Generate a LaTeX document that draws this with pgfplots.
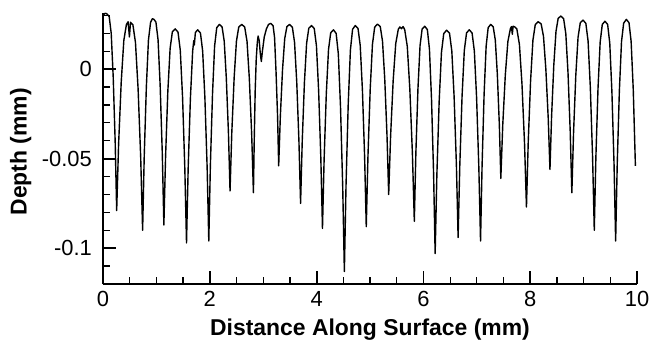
\documentclass[border=0pt]{standalone}
\usepackage{fontspec}
\setmainfont{Liberation Sans}
\usepackage{pgfplots}
\pgfplotsset{compat=1.18}
\begin{document}
\begin{tikzpicture}
\path[use as bounding box] (-103bp,-57bp) rectangle (549bp,284bp);
\begin{axis}[
 at={(0,0)}, anchor=south west,
 width=534bp, height=271.2bp, scale only axis,
 xmin=0, xmax=10, ymin=-0.12, ymax=0.0315,
 axis x line*=bottom, axis y line*=left,
 axis line style={line width=2.2bp, -},
 xtick={0,2,4,6,8,10}, xticklabels={0,2,4,6,8,10},
 ytick={-0.1,-0.05,0}, yticklabels={-0.1,-0.05,0},
 minor xtick={0.5,1,1.5,2.5,3,3.5,4.5,5,5.5,6.5,7,7.5,8.5,9,9.5},
 minor ytick={-0.12,-0.11,-0.09,-0.08,-0.07,-0.06,-0.04,-0.03,-0.02,-0.01,0.01,0.02,0.03},
 tick align=inside,
 major tick length=13bp, minor tick length=7bp,
 major tick style={line width=1.8bp, black},
 minor tick style={line width=1.2bp, black},
 ticklabel style={font=\fontsize{22}{26}\selectfont},
 xticklabel style={anchor=base, yshift=-22.7bp},
 yticklabel style={anchor=east, inner sep=0pt, xshift=-11bp},
 xlabel={Distance Along Surface (mm)},
 ylabel={Depth (mm)},
 every axis x label/.style={at={(axis description cs:0.5,0)}, anchor=base, yshift=-51.3bp, font=\bfseries\fontsize{23}{26}\selectfont},
 every axis y label/.style={at={(axis description cs:-0.1429,0.488)}, rotate=90, anchor=base, font=\bfseries\fontsize{23}{26}\selectfont},
]
\addplot[black, line width=1.4bp, mark=none, line join=round] coordinates {
(0,0.0292) (0.015,0.0305) (0.04,0.0312) (0.07,0.0310) (0.116,0.0294) (0.154,0.0200) (0.191,-0.0042) (0.228,-0.0405) (0.256,-0.0790)
(0.292,-0.0421) (0.341,-0.0073) (0.390,0.0160) (0.438,0.0249) (0.470,0.0265) (0.495,0.0180) (0.515,0.0262) (0.560,0.0248) (0.608,0.0149) (0.657,-0.0108) (0.706,-0.0492) (0.742,-0.0900)
(0.772,-0.0487) (0.812,-0.0098) (0.851,0.0162) (0.891,0.0262) (0.925,0.0282) (0.955,0.0278) (0.991,0.0263) (1.031,0.0165) (1.070,-0.0088) (1.110,-0.0467) (1.140,-0.0870)
(1.172,-0.0487) (1.214,-0.0125) (1.257,0.0116) (1.299,0.0209) (1.352,0.0225) (1.405,0.0207) (1.447,0.0106) (1.490,-0.0157) (1.532,-0.0552) (1.564,-0.0970)
(1.595,-0.0553) (1.637,-0.0161) (1.679,0.0101) (1.700,0.0160) (1.710,0.0135) (1.730,0.0205) (1.773,0.0220) (1.825,0.0202) (1.866,0.0102) (1.908,-0.0158) (1.950,-0.0547) (1.981,-0.0960)
(2.011,-0.0536) (2.051,-0.0137) (2.090,0.0129) (2.130,0.0232) (2.180,0.0250) (2.230,0.0236) (2.270,0.0157) (2.309,-0.0048) (2.349,-0.0354) (2.379,-0.0680)
(2.412,-0.0354) (2.456,-0.0048) (2.499,0.0157) (2.543,0.0236) (2.598,0.0250) (2.653,0.0236) (2.697,0.0156) (2.740,-0.0051) (2.784,-0.0361) (2.817,-0.0690)
(2.832,-0.0400) (2.850,-0.0120) (2.870,0.0060) (2.890,0.0150) (2.905,0.0185) (2.925,0.0160) (2.945,0.0090) (2.965,0.0043) (2.985,0.0100) (3.020,0.0180) (3.060,0.0225) (3.100,0.0250) (3.140,0.0256) (3.185,0.0243) (3.213,0.0176) (3.241,-0.0019) (3.269,-0.0262) (3.290,-0.0540)
(3.321,-0.0263) (3.362,-0.0003) (3.403,0.0171) (3.444,0.0238) (3.495,0.0250) (3.546,0.0235) (3.587,0.0150) (3.628,-0.0070) (3.669,-0.0400) (3.700,-0.0750)
(3.731,-0.0402) (3.772,-0.0074) (3.813,0.0145) (3.854,0.0229) (3.905,0.0244) (3.956,0.0227) (3.997,0.0131) (4.038,-0.0119) (4.079,-0.0493) (4.110,-0.0890)
(4.141,-0.0501) (4.182,-0.0135) (4.223,0.0109) (4.264,0.0203) (4.315,0.0220) (4.366,0.0200) (4.407,0.0085) (4.448,-0.0212) (4.489,-0.0657) (4.520,-0.1130)
(4.551,-0.0649) (4.592,-0.0196) (4.633,0.0107) (4.674,0.0223) (4.725,0.0244) (4.776,0.0227) (4.817,0.0132) (4.858,-0.0116) (4.899,-0.0487) (4.930,-0.0880)
(4.962,-0.0484) (5.004,-0.0110) (5.046,0.0139) (5.088,0.0235) (5.140,0.0252) (5.192,0.0238) (5.234,0.0157) (5.276,-0.0053) (5.318,-0.0367) (5.350,-0.0700)
(5.386,-0.0372) (5.434,-0.0063) (5.482,0.0143) (5.530,0.0223) (5.560,0.0236) (5.590,0.0226) (5.620,0.0238) (5.650,0.0221) (5.698,0.0128) (5.746,-0.0111) (5.794,-0.0470) (5.830,-0.0850)
(5.859,-0.0468) (5.898,-0.0109) (5.937,0.0131) (5.976,0.0224) (6.025,0.0240) (6.074,0.0221) (6.113,0.0113) (6.152,-0.0166) (6.191,-0.0585) (6.220,-0.1030)
(6.252,-0.0593) (6.295,-0.0181) (6.338,0.0093) (6.381,0.0199) (6.435,0.0218) (6.489,0.0201) (6.532,0.0102) (6.575,-0.0153) (6.618,-0.0535) (6.650,-0.0940)
(6.682,-0.0534) (6.724,-0.0151) (6.766,0.0104) (6.808,0.0203) (6.860,0.0220) (6.912,0.0202) (6.954,0.0102) (6.996,-0.0158) (7.038,-0.0547) (7.070,-0.0960)
(7.099,-0.0536) (7.137,-0.0137) (7.175,0.0129) (7.213,0.0232) (7.260,0.0250) (7.307,0.0237) (7.346,0.0164) (7.384,-0.0025) (7.422,-0.0309) (7.450,-0.0610)
(7.486,-0.0312) (7.534,-0.0032) (7.582,0.0155) (7.630,0.0227) (7.650,0.0238) (7.665,0.0195) (7.680,0.0240) (7.710,0.0236) (7.750,0.0225) (7.798,0.0139) (7.846,-0.0083) (7.894,-0.0416) (7.930,-0.0770)
(7.963,-0.0408) (8.007,-0.0066) (8.051,0.0162) (8.095,0.0249) (8.150,0.0265) (8.205,0.0253) (8.249,0.0183) (8.293,0.0001) (8.337,-0.0271) (8.370,-0.0560)
(8.401,-0.0260) (8.442,0.0023) (8.483,0.0211) (8.524,0.0284) (8.575,0.0297) (8.626,0.0282) (8.667,0.0198) (8.708,-0.0019) (8.749,-0.0345) (8.780,-0.0690)
(8.812,-0.0353) (8.854,-0.0034) (8.896,0.0178) (8.938,0.0260) (8.990,0.0274) (9.042,0.0256) (9.084,0.0157) (9.126,-0.0102) (9.168,-0.0489) (9.200,-0.0900)
(9.230,-0.0491) (9.270,-0.0106) (9.310,0.0151) (9.350,0.0250) (9.400,0.0268) (9.450,0.0250) (9.490,0.0145) (9.530,-0.0125) (9.570,-0.0530) (9.600,-0.0960)
(9.630,-0.0527) (9.670,-0.0118) (9.710,0.0154) (9.750,0.0257) (9.800,0.0278) (9.850,0.0260) (9.890,0.0155) (9.930,-0.0115) (9.970,-0.0540)
};
\end{axis}
\end{tikzpicture}
\end{document}
